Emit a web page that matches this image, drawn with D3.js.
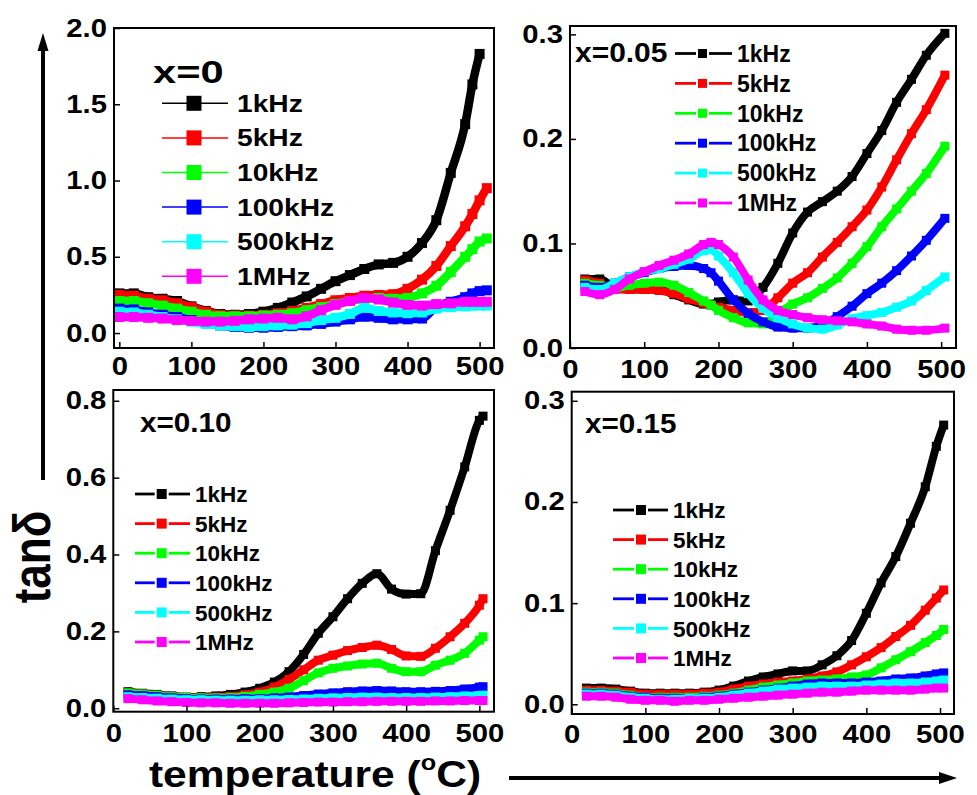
<!DOCTYPE html>
<html>
<head>
<meta charset="utf-8">
<script src="https://cdn.jsdelivr.net/npm/d3@7"></script>
<style>
  body { margin: 0; background: #fff; }
  text { font-family: "Liberation Sans", Arial, sans-serif; font-weight: bold; fill: #000; }
</style>
</head>
<body>
<div id="chart-area"></div>
<script>
//============================DATA============================
var freqs = ["1kHz", "5kHz", "10kHz", "100kHz", "500kHz", "1MHz"];
var colors = ["#000000", "#ff0000", "#00ff00", "#0000ff", "#00ffff", "#ff00ff"];
var xTicks = [0, 100, 200, 300, 400, 500];

// x = 0
var tempA = [0,20,40,60,80,100,120,140,160,180,200,220,240,260,280,300,320,340,360,380,400,420,440,460,480,490,500,510];
var A_1kHz   = [0.26,0.26,0.235,0.225,0.21,0.175,0.145,0.125,0.12,0.125,0.14,0.165,0.2,0.24,0.29,0.34,0.38,0.42,0.45,0.46,0.5,0.59,0.74,1.05,1.37,1.63,1.83,null];
var A_5kHz   = [0.25,0.245,0.225,0.215,0.195,0.17,0.14,0.12,0.115,0.115,0.12,0.13,0.145,0.165,0.19,0.215,0.23,0.245,0.25,0.255,0.29,0.35,0.44,0.57,0.70,0.78,0.87,0.95];
var A_10kHz  = [0.21,0.21,0.195,0.18,0.16,0.14,0.12,0.11,0.11,0.11,0.115,0.12,0.13,0.15,0.17,0.19,0.21,0.225,0.23,0.225,0.23,0.26,0.31,0.40,0.50,0.55,0.60,0.62];
var A_100kHz = [0.16,0.155,0.135,0.12,0.105,0.085,0.065,0.05,0.04,0.035,0.035,0.04,0.045,0.05,0.06,0.075,0.09,0.107,0.1,0.09,0.09,0.095,0.175,0.205,0.235,0.26,0.275,0.28];
var A_500kHz = [0.14,0.135,0.12,0.105,0.09,0.075,0.06,0.05,0.045,0.04,0.045,0.05,0.055,0.065,0.085,0.1,0.125,0.165,0.145,0.135,0.13,0.135,0.16,0.17,0.175,0.18,0.18,0.18];
var A_1MHz   = [0.105,0.105,0.1,0.095,0.085,0.08,0.075,0.075,0.08,0.09,0.095,0.1,0.09,0.11,0.15,0.185,0.21,0.23,0.22,0.2,0.185,0.18,0.19,0.195,0.205,0.205,0.205,0.205];

// x = 0.05
var tempB = [20,40,60,80,100,120,140,160,180,190,200,220,240,260,280,300,320,340,360,380,400,420,440,460,480,505];
var B_1kHz   = [0.066,0.066,0.058,0.056,0.056,0.056,0.051,0.046,0.042,0.042,0.044,0.046,0.045,0.058,0.081,0.11,0.13,0.14,0.15,0.164,0.186,0.208,0.235,0.257,0.28,0.301];
var B_5kHz   = [0.065,0.062,0.056,0.056,0.056,0.055,0.052,0.047,0.043,0.041,0.039,0.036,0.034,0.036,0.048,0.062,0.072,0.087,0.101,0.116,0.132,0.154,0.18,0.205,0.228,0.261];
var B_10kHz  = [0.062,0.06,0.057,0.06,0.062,0.063,0.06,0.053,0.045,0.041,0.036,0.029,0.024,0.023,0.033,0.042,0.048,0.057,0.067,0.081,0.097,0.116,0.133,0.15,0.167,0.193];
var B_100kHz = [0.06,0.058,0.062,0.068,0.072,0.076,0.078,0.079,0.076,0.072,0.064,0.046,0.033,0.025,0.02,0.019,0.019,0.022,0.03,0.04,0.052,0.062,0.074,0.088,0.103,0.124];
var B_500kHz = [0.058,0.056,0.062,0.068,0.073,0.076,0.08,0.085,0.093,0.094,0.088,0.072,0.052,0.038,0.029,0.023,0.019,0.018,0.022,0.028,0.031,0.034,0.039,0.045,0.055,0.068];
var B_1MHz   = [0.054,0.051,0.056,0.066,0.073,0.079,0.084,0.09,0.099,0.101,0.099,0.087,0.065,0.046,0.036,0.032,0.029,0.027,0.026,0.025,0.023,0.021,0.018,0.017,0.017,0.019];

// x = 0.10
var tempC = [20,40,60,80,100,120,140,160,180,200,220,240,260,280,300,320,340,360,380,400,420,440,460,480,500,505];
var C_1kHz   = [0.043,0.039,0.036,0.032,0.029,0.03,0.032,0.036,0.042,0.052,0.068,0.095,0.14,0.195,0.238,0.285,0.325,0.35,0.31,0.297,0.298,0.41,0.515,0.628,0.749,0.76];
var C_5kHz   = [0.04,0.037,0.034,0.031,0.028,0.028,0.029,0.031,0.035,0.042,0.055,0.075,0.1,0.125,0.138,0.15,0.158,0.164,0.153,0.136,0.135,0.156,0.186,0.221,0.268,0.285];
var C_10kHz  = [0.04,0.037,0.034,0.03,0.028,0.027,0.027,0.028,0.031,0.036,0.042,0.052,0.072,0.092,0.104,0.11,0.115,0.117,0.104,0.095,0.095,0.112,0.125,0.143,0.177,0.186];
var C_100kHz = [0.035,0.033,0.03,0.027,0.025,0.024,0.024,0.024,0.025,0.025,0.027,0.029,0.033,0.037,0.04,0.043,0.045,0.046,0.045,0.043,0.043,0.044,0.046,0.05,0.055,0.056];
var C_500kHz = [0.03,0.028,0.026,0.024,0.022,0.022,0.021,0.021,0.021,0.022,0.022,0.023,0.024,0.026,0.027,0.028,0.029,0.029,0.028,0.028,0.028,0.029,0.03,0.032,0.033,0.034];
var C_1MHz   = [0.025,0.022,0.019,0.017,0.015,0.014,0.014,0.013,0.013,0.013,0.013,0.014,0.015,0.016,0.016,0.017,0.017,0.018,0.018,0.018,0.018,0.019,0.019,0.02,0.02,0.02];

// x = 0.15
var tempD = [20,40,60,80,100,120,140,160,180,200,220,240,260,280,300,320,340,360,380,400,420,440,460,480,495,505];
var D_1kHz   = [0.016,0.016,0.015,0.013,0.011,0.011,0.011,0.011,0.012,0.014,0.018,0.023,0.027,0.03,0.033,0.033,0.039,0.048,0.063,0.09,0.12,0.146,0.179,0.215,0.255,0.276];
var D_5kHz   = [0.014,0.014,0.013,0.012,0.01,0.01,0.01,0.01,0.011,0.012,0.015,0.018,0.02,0.022,0.023,0.025,0.028,0.032,0.039,0.047,0.056,0.067,0.078,0.093,0.105,0.113];
var D_10kHz  = [0.012,0.012,0.011,0.009,0.007,0.007,0.007,0.007,0.008,0.009,0.011,0.014,0.017,0.019,0.021,0.023,0.024,0.025,0.027,0.029,0.036,0.044,0.052,0.061,0.068,0.074];
var D_100kHz = [0.011,0.011,0.01,0.008,0.007,0.006,0.006,0.006,0.007,0.008,0.01,0.012,0.014,0.016,0.018,0.02,0.021,0.021,0.021,0.022,0.023,0.025,0.026,0.028,0.03,0.031];
var D_500kHz = [0.01,0.01,0.009,0.007,0.006,0.005,0.005,0.006,0.006,0.007,0.009,0.011,0.013,0.015,0.016,0.017,0.018,0.018,0.018,0.019,0.02,0.021,0.021,0.022,0.023,0.024];
var D_1MHz   = [0.008,0.008,0.007,0.005,0.004,0.004,0.003,0.004,0.004,0.005,0.006,0.007,0.008,0.009,0.01,0.011,0.012,0.012,0.013,0.014,0.014,0.014,0.014,0.015,0.016,0.016];

//============================LAYOUT============================
var W = 977, H = 795;
var sx = 1.17; // the figure is a bit stretched horizontally

var panels = [
  { label: "x=0", temps: tempA, series: [A_1kHz, A_5kHz, A_10kHz, A_100kHz, A_500kHz, A_1MHz],
    box: { l: 114, r: 494, t: 28, b: 348 }, xDom: [-7.4, 520], yDom: [-0.098, 2.0],
    yTicks: [0, 0.5, 1.0, 1.5, 2.0], xLabDy: 27,
    lab: { x: 153, y: 82.5, size: 32, sx: 1.3 },
    leg: { x1: 162, x2: 228, mx: 194, ms: 15, gap: null, lw: 1.5, tx: 237, y0: 103.3, dy: 34.6, size: 23.5, sx: 1.2 },
    lineW: 8.5, mark: 10 },
  { label: "x=0.05", temps: tempB, series: [B_1kHz, B_5kHz, B_10kHz, B_100kHz, B_500kHz, B_1MHz],
    box: { l: 570, r: 956, t: 26, b: 348 }, xDom: [0, 520], yDom: [0, 0.308],
    yTicks: [0, 0.1, 0.2, 0.3], xLabDy: 30,
    lab: { x: 575, y: 61.7, size: 28, sx: 1.07 },
    leg: { x1: 675, x2: 732, mx: 702.5, ms: 9, gap: 2, lw: 2.8, tx: 737, y0: 53.5, dy: 29.9, size: 23, sx: 1.0 },
    lineW: 8, mark: 9 },
  { label: "x=0.10", temps: tempC, series: [C_1kHz, C_5kHz, C_10kHz, C_100kHz, C_500kHz, C_1MHz],
    box: { l: 113.3, r: 494, t: 390, b: 711.7 }, xDom: [0, 520], yDom: [-0.009, 0.828],
    yTicks: [0, 0.2, 0.4, 0.6, 0.8], xLabDy: 31,
    lab: { x: 140, y: 431.7, size: 28, sx: 1.06 },
    leg: { x1: 135, x2: 190, mx: 161.7, ms: 10, gap: 2, lw: 2.8, tx: 195, y0: 494, dy: 29.6, size: 22.5, sx: 1.0 },
    lineW: 8, mark: 9 },
  { label: "x=0.15", temps: tempD, series: [D_1kHz, D_5kHz, D_10kHz, D_100kHz, D_500kHz, D_1MHz],
    box: { l: 571.7, r: 954, t: 391.7, b: 714 }, xDom: [0, 519], yDom: [-0.0096, 0.309],
    yTicks: [0, 0.1, 0.2, 0.3], xLabDy: 29,
    lab: { x: 585, y: 433.3, size: 28, sx: 1.06 },
    leg: { x1: 613, x2: 668, mx: 641, ms: 10, gap: 2, lw: 2.8, tx: 673, y0: 510, dy: 29.6, size: 22.5, sx: 1.0 },
    lineW: 8, mark: 9 }
];

var svg = d3.select("#chart-area")
    .append("svg")
    .attr("width", W)
    .attr("height", H);

svg.append("rect").attr("width", W).attr("height", H).attr("fill", "#fff");

panels.forEach(function(p) {
    var g = svg.append("g");

    var x = d3.scaleLinear().domain(p.xDom).range([p.box.l, p.box.r]);
    var y = d3.scaleLinear().domain(p.yDom).range([p.box.b, p.box.t]);

    // curves, 1kHz first so 1MHz ends on top
    p.series.forEach(function(vals, i) {
        var pts = p.temps.map(function(t, j) { return { t: t, v: vals[j] }; })
            .filter(function(d) { return d.v !== null; });

        var line = d3.line()
            .x(function(d) { return x(d.t); })
            .y(function(d) { return y(d.v); })
            .curve(d3.curveMonotoneX);

        g.append("path")
            .datum(pts)
            .attr("fill", "none")
            .attr("stroke", colors[i])
            .attr("stroke-width", p.lineW)
            .attr("d", line);

        g.selectAll(null)
            .data(pts)
            .enter()
            .append("rect")
            .attr("x", function(d) { return x(d.t) - p.mark / 2; })
            .attr("y", function(d) { return y(d.v) - p.mark / 2; })
            .attr("width", p.mark)
            .attr("height", p.mark)
            .attr("fill", colors[i]);
    });

    // axes, ticks pointing inward
    var yAxisCall = d3.axisLeft(y)
        .tickValues(p.yTicks)
        .tickFormat(d3.format(".1f"))
        .tickSizeInner(-6)
        .tickSizeOuter(0)
        .tickPadding(6);

    var xAxisCall = d3.axisBottom(x)
        .tickValues(xTicks)
        .tickSizeInner(-6)
        .tickSizeOuter(0)
        .tickPadding(p.xLabDy - 18);

    var ya = g.append("g")
        .attr("transform", "translate(" + p.box.l + ",0)")
        .call(yAxisCall);
    var xa = g.append("g")
        .attr("transform", "translate(0," + p.box.b + ")")
        .call(xAxisCall);

    [ya, xa].forEach(function(a) {
        a.select(".domain").remove();
        a.selectAll("line").attr("stroke", "#000").attr("stroke-width", 1.5);
        a.selectAll("text")
            .attr("font-size", 25)
            .attr("font-family", "'Liberation Sans', Arial, sans-serif")
            .attr("font-weight", "bold")
            .attr("fill", "#000")
            .attr("transform", "scale(" + sx + ",1)");
    });

    // frame
    g.append("rect")
        .attr("x", p.box.l)
        .attr("y", p.box.t)
        .attr("width", p.box.r - p.box.l)
        .attr("height", p.box.b - p.box.t)
        .attr("fill", "none")
        .attr("stroke", "#000")
        .attr("stroke-width", 2);

    // sample label
    g.append("text")
        .attr("transform", "translate(" + p.lab.x + "," + p.lab.y + ") scale(" + p.lab.sx + ",1)")
        .attr("font-size", p.lab.size)
        .text(p.label);

    // legend
    var L = p.leg;
    freqs.forEach(function(f, i) {
        var yy = L.y0 + i * L.dy;
        if (L.gap === null) {
            g.append("line")
                .attr("x1", L.x1).attr("x2", L.x2)
                .attr("y1", yy).attr("y2", yy)
                .attr("stroke", colors[i]).attr("stroke-width", L.lw);
        } else {
            g.append("line")
                .attr("x1", L.x1).attr("x2", L.mx - L.ms / 2 - L.gap)
                .attr("y1", yy).attr("y2", yy)
                .attr("stroke", colors[i]).attr("stroke-width", L.lw);
            g.append("line")
                .attr("x1", L.mx + L.ms / 2 + L.gap).attr("x2", L.x2)
                .attr("y1", yy).attr("y2", yy)
                .attr("stroke", colors[i]).attr("stroke-width", L.lw);
        }
        g.append("rect")
            .attr("x", L.mx - L.ms / 2)
            .attr("y", yy - L.ms / 2)
            .attr("width", L.ms)
            .attr("height", L.ms)
            .attr("fill", colors[i]);
        g.append("text")
            .attr("transform", "translate(" + L.tx + "," + yy + ") scale(" + L.sx + ",1)")
            .attr("dy", "0.36em")
            .attr("font-size", L.size)
            .text(f);
    });
});

//============================SHARED LABELS============================
svg.append("text")
    .attr("transform", "translate(50,557) scale(" + sx + ",1) rotate(-90)")
    .attr("text-anchor", "middle")
    .attr("font-size", 44)
    .text("tanδ");

var xl = svg.append("text")
    .attr("transform", "translate(315,787) scale(1.15,1)")
    .attr("text-anchor", "middle")
    .attr("font-size", 37);
xl.append("tspan").text("temperature (");
xl.append("tspan").attr("font-size", 22).attr("dy", -17).text("o");
xl.append("tspan").attr("dy", 17).text("C)");

// arrows
svg.append("line")
    .attr("x1", 43).attr("y1", 480).attr("x2", 43).attr("y2", 48)
    .attr("stroke", "#000").attr("stroke-width", 4);
svg.append("path")
    .attr("d", "M43,33 L37.5,51 L48.5,51 Z")
    .attr("fill", "#000");

svg.append("line")
    .attr("x1", 509).attr("y1", 778).attr("x2", 942).attr("y2", 778)
    .attr("stroke", "#000").attr("stroke-width", 4);
svg.append("path")
    .attr("d", "M957,778 L939,772 L939,784 Z")
    .attr("fill", "#000");
</script>
</body>
</html>
